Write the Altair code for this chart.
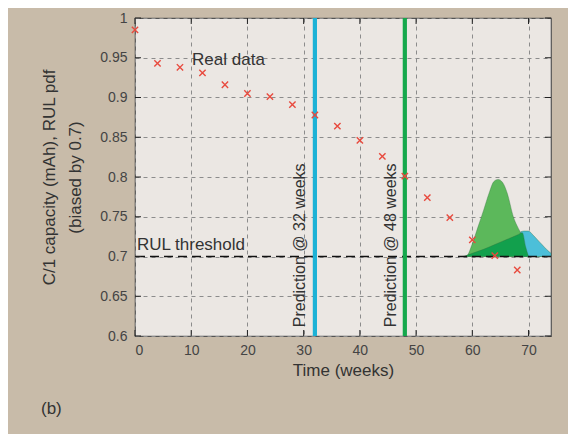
import altair as alt
import pandas as pd

# ---- data ----
time_weeks = [0, 4, 8, 12, 16, 20, 24, 28, 32, 36, 40, 44, 48, 52, 56, 60, 64, 68]
capacity = [0.985, 0.943, 0.938, 0.931, 0.916, 0.905, 0.901, 0.891, 0.878,
            0.864, 0.846, 0.826, 0.801, 0.774, 0.749, 0.721, 0.701, 0.683]

pdf48_x = [58.0, 59.0, 60.0, 61.0, 62.0, 63.0, 63.8, 64.6, 65.4, 66.2, 67.3, 68.5, 69.5, 70.5, 72.0, 74.0]
pdf48_y = [0.700, 0.701, 0.716, 0.737, 0.758, 0.780, 0.794, 0.797, 0.793, 0.780, 0.750, 0.731, 0.716, 0.706, 0.701, 0.700]

pdf_dark_x = [58.5, 60.0, 62.0, 64.0, 66.0, 68.0, 68.9, 69.5, 70.0]
pdf_dark_y = [0.700, 0.704, 0.709, 0.715, 0.721, 0.727, 0.730, 0.712, 0.700]

pdf32_x = [68.6, 69.2, 70.0, 70.8, 71.6, 72.4, 73.2, 74.0]
pdf32_y = [0.731, 0.732, 0.732, 0.727, 0.721, 0.715, 0.709, 0.704]

baseline = 0.7
prediction_weeks = [32, 48]
prediction_colors = ["#1cb2d6", "#15a84c"]
prediction_labels = ["Prediction @ 32 weeks", "Prediction @ 48 weeks"]
prediction_label_x = [30.3, 46.5]

x_ticks = [0, 10, 20, 30, 40, 50, 60, 70]
y_ticks = [0.6, 0.65, 0.7, 0.75, 0.8, 0.85, 0.9, 0.95, 1.0]
x_domain = [0, 74]
y_domain = [0.6, 1.0]

FONT = "Liberation Sans"

xaxis = alt.Axis(values=x_ticks, format="d", title="Time (weeks)",
                 labelFont=FONT, titleFont=FONT, labelFontSize=14, titleFontSize=17,
                 labelColor="#444", titleColor="#333", titleFontWeight="normal",
                 ticks=False, domain=False, grid=True, gridDash=[4, 4],
                 gridColor="#8c8c8c", gridWidth=1, labelPadding=7, titlePadding=5)
yaxis = alt.Axis(values=y_ticks, format=".2~f",
                 title=["C/1 capacity (mAh), RUL pdf", "(biased by 0.7)"],
                 labelFont=FONT, titleFont=FONT, labelFontSize=14, titleFontSize=17,
                 labelColor="#444", titleColor="#333", titleFontWeight="normal",
                 titleLineHeight=26,
                 ticks=False, domain=False, grid=True, gridDash=[4, 4],
                 gridColor="#8c8c8c", gridWidth=1, labelPadding=8, titlePadding=15)


def X(field="x"):
    return alt.X(f"{field}:Q", scale=alt.Scale(domain=x_domain, nice=False, zero=False), axis=xaxis)


def Y(field="y"):
    return alt.Y(f"{field}:Q", scale=alt.Scale(domain=y_domain, nice=False, zero=False), axis=yaxis)


def area_layer(xs, ys, color):
    df = pd.DataFrame({"x": xs, "y": ys, "y2": [baseline] * len(xs)})
    return alt.Chart(df).mark_area(color=color, stroke="#2f6e3a", strokeWidth=0.6,
                                   strokeOpacity=0.6, opacity=1, interpolate="monotone").encode(
        x=X(), y=Y(), y2="y2:Q")


light = area_layer(pdf48_x, pdf48_y, "#5cb85b")
blue = area_layer(pdf32_x, pdf32_y, "#4cbfd9")
dark = area_layer(pdf_dark_x, pdf_dark_y, "#12a04d")

thr = alt.Chart(pd.DataFrame({"y": [baseline]})).mark_rule(
    color="#111", strokeDash=[9, 5], strokeWidth=1.6).encode(y=Y())

pred_df = pd.DataFrame({"x": prediction_weeks, "c": prediction_colors,
                        "label": prediction_labels, "lx": prediction_label_x,
                        "ly": [0.611, 0.611]})
vlines = alt.Chart(pred_df).mark_rule(strokeWidth=4.2).encode(
    x=X(), color=alt.Color("c:N", scale=None))

pts = alt.Chart(pd.DataFrame({"x": time_weeks, "y": capacity})).mark_point(
    shape="M-1,-1L1,1M-1,1L1,-1", size=40, filled=False, color="#e84a3e",
    strokeWidth=1.4, opacity=1).encode(x=X(), y=Y())

pred_text = alt.Chart(pred_df).mark_text(
    angle=270, align="left", baseline="alphabetic", font=FONT, fontSize=16,
    color="#333").encode(x=X("lx"), y=Y("ly"), text="label:N")

ann_df = pd.DataFrame({"x": [10.15, 0.35], "y": [0.941, 0.708],
                       "label": ["Real data", "RUL threshold"]})
ann = alt.Chart(ann_df).mark_text(align="left", baseline="alphabetic", font=FONT,
                                  fontSize=17, color="#333").encode(
    x=X(), y=Y(), text="label:N")

panel = alt.Chart(pd.DataFrame({"label": ["(b)"]})).mark_text(
    align="left", baseline="alphabetic", font=FONT, fontSize=17, color="#333").encode(
    x=alt.value(-94), y=alt.value(396), text="label:N")

# inward tick marks on the frame
bt = alt.Chart(pd.DataFrame({"x": x_ticks, "y": [y_domain[0]] * len(x_ticks)})).mark_tick(
    orient="vertical", size=6, thickness=1, color="#222", yOffset=-3, opacity=1).encode(x=X(), y=Y())
tt = alt.Chart(pd.DataFrame({"x": x_ticks, "y": [y_domain[1]] * len(x_ticks)})).mark_tick(
    orient="vertical", size=6, thickness=1, color="#222", yOffset=3, opacity=1).encode(x=X(), y=Y())
lt = alt.Chart(pd.DataFrame({"x": [x_domain[0]] * len(y_ticks), "y": y_ticks})).mark_tick(
    orient="horizontal", size=6, thickness=1, color="#222", xOffset=3, opacity=1).encode(x=X(), y=Y())
rt = alt.Chart(pd.DataFrame({"x": [x_domain[1]] * len(y_ticks), "y": y_ticks})).mark_tick(
    orient="horizontal", size=6, thickness=1, color="#222", xOffset=-3, opacity=1).encode(x=X(), y=Y())

chart = alt.layer(light, blue, dark, thr, vlines, pts, pred_text, ann, panel,
                  bt, tt, lt, rt).properties(
    width=416, height=318,
    padding={"left": 127, "top": 10, "right": 17, "bottom": 98},
    autosize=alt.AutoSizeParams(type="none"),
    background="#c8bba9",
).configure_view(stroke="#555", strokeWidth=1.2, fill="#ebe7e3")

chart.save("out.html", embed_options={"renderer": "svg", "actions": False})
